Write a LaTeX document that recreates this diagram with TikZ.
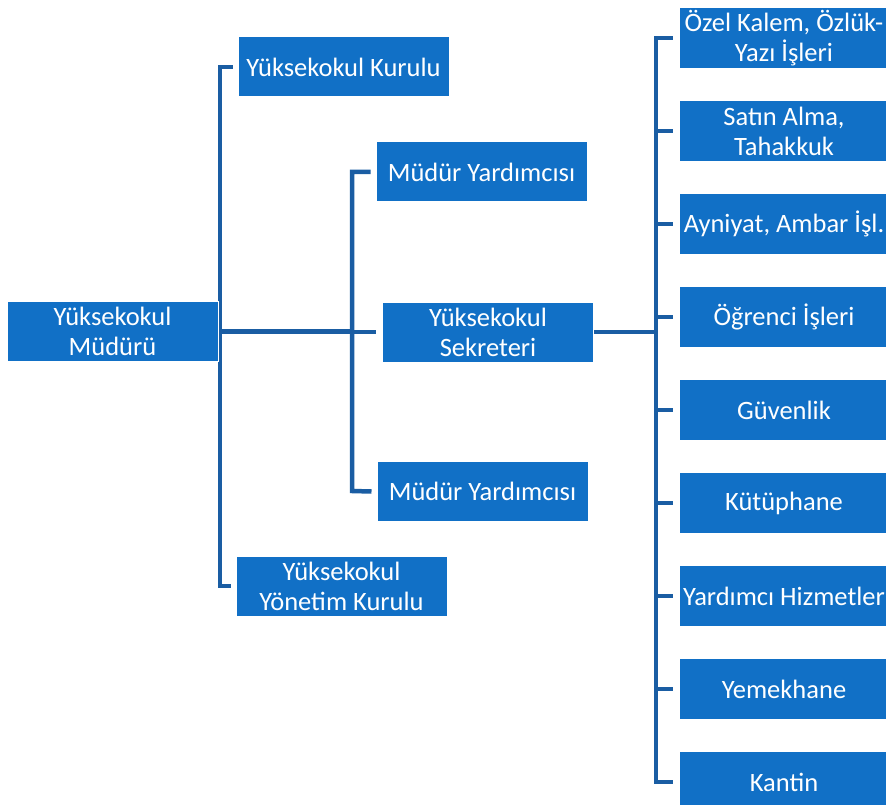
\documentclass[tikz,border=0pt]{standalone}
\usepackage{fontspec}
\setmainfont{Carlito}
\usetikzlibrary{backgrounds}
\definecolor{boxblue}{HTML}{1170C6}
\definecolor{lineblue}{HTML}{1A5DA3}
\begin{document}
\begin{tikzpicture}[x=1pt,y=-1pt,
  box/.style={fill=boxblue,draw=white,line width=1pt,text=white,align=center,
    font=\fontsize{26.5}{30}\selectfont,inner sep=0pt},
  conn/.style={draw=lineblue,line width=4.5pt}]
\useasboundingbox (0,0) rectangle (886,805);
\clip (0,0) rectangle (886,805);
\coordinate (v1t) at (220,68);
\coordinate (v1b) at (220,586);
\coordinate (v2t) at (352,172);
\coordinate (v2b) at (352,491);
\coordinate (v3t) at (656,38);
\coordinate (v3b) at (656,782);
% boxes
\node[box,minimum width=211pt,minimum height=60pt] (mud) at (112.5,331.5) {Yüksekokul\\Müdürü};
\node[box,minimum width=211pt,minimum height=60pt] (kur) at (343.5,67) {Yüksekokul Kurulu};
\node[box,minimum width=211pt,minimum height=60pt] (yon) at (341.5,586) {Yüksekokul\\Yönetim Kurulu};
\node[box,minimum width=211pt,minimum height=60pt] (my1) at (481.5,172) {Müdür Yardımcısı};
\node[box,minimum width=211pt,minimum height=60pt] (my2) at (482.5,491.5) {Müdür Yardımcısı};
\node[box,minimum width=211pt,minimum height=60pt] (sek) at (488,332) {Yüksekokul\\Sekreteri};
\foreach \i/\t in {0/{Özel Kalem, Özlük-\\Yazı İşleri},1/{Satın Alma,\\Tahakkuk},2/{Ayniyat, Ambar İşl.},3/{Öğrenci İşleri},4/{Güvenlik},5/{Kütüphane},6/{Yardımcı Hizmetler},7/{Yemekhane},8/{Kantin}}{
  \node[box,minimum width=210pt,minimum height=61pt] (r\i) at (784,38+93*\i) {\t};
}
% connectors
\begin{scope}[on background layer]
\draw[conn] ([xshift=-5pt]kur.west) -| (v1t) -- (v1b) -- ([xshift=-5pt]yon.west);
\draw[conn] (mud.east) -- (v2t |- mud.east);
\draw[conn] ([xshift=-5pt]my1.west) -| (v2t) -- (v2b) -- ([xshift=-5pt]my2.west);
\draw[conn] (v2t |- sek.west) -- ([xshift=-6pt]sek.west);
\draw[conn] (sek.east) -- (v3t |- sek.east);
\draw[conn] ([xshift=-6pt]r0.west) -| (v3t) -- (v3b) -- ([xshift=-6pt]r8.west);
\foreach \i in {1,...,7}{\draw[conn] (v3t |- r\i.west) -- ([xshift=-6pt]r\i.west);}
\end{scope}
\end{tikzpicture}
\end{document}
